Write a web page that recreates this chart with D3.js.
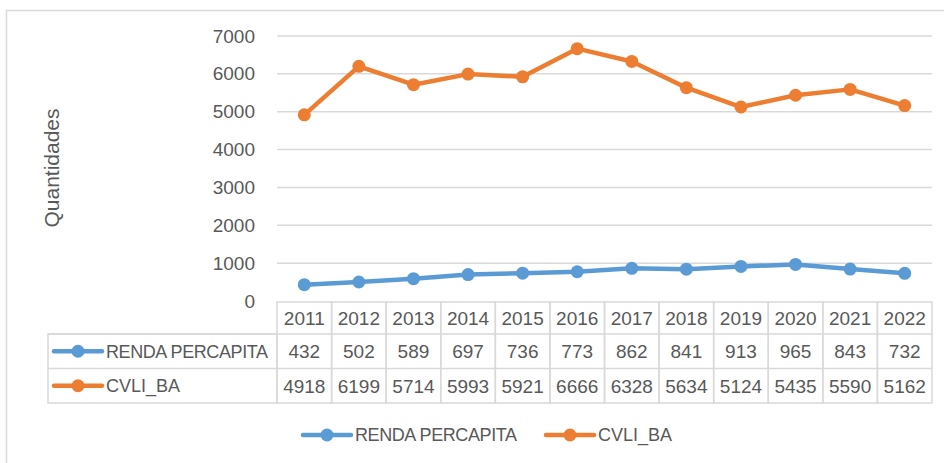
<!DOCTYPE html>
<html>
<head>
<meta charset="utf-8">
<script src="https://cdn.jsdelivr.net/npm/d3@7"></script>
<style>
  body { margin: 0; background: #fff; }
  text { font-family: "Liberation Sans", Arial, sans-serif; fill: #595959; }
</style>
</head>
<body>
<div id="main"></div>
<script>
var years = ["2011", "2012", "2013", "2014", "2015", "2016", "2017", "2018", "2019", "2020", "2021", "2022"];
var renda = [432, 502, 589, 697, 736, 773, 862, 841, 913, 965, 843, 732];
var cvli = [4918, 6199, 5714, 5993, 5921, 6666, 6328, 5634, 5124, 5435, 5590, 5162];
var yTicks = [0, 1000, 2000, 3000, 4000, 5000, 6000, 7000];
var seriesNames = ["RENDA PERCAPITA", "CVLI_BA"];
var seriesColors = ["#5b9bd5", "#ed7d31"];

var W = 944, H = 463;
var grid = "#d9d9d9";

var svg = d3.select("#main")
  .append("svg")
  .attr("width", W)
  .attr("height", H);

svg.append("rect").attr("width", W).attr("height", H).attr("fill", "#fff");

// chart frame (cut at right / bottom like the screenshot)
svg.append("path")
  .attr("d", "M6.5," + H + "V10.5H" + W)
  .attr("fill", "none")
  .attr("stroke", grid)
  .attr("stroke-width", 1.5);

var x = d3.scaleBand()
  .domain(years)
  .range([277, 932]);

var y = d3.scaleLinear()
  .domain([0, 7000])
  .range([301, 36]);

// gridlines
svg.selectAll(".grid")
  .data(yTicks.filter(d => d > 0))
  .enter()
  .append("line")
  .attr("x1", 277).attr("x2", 932)
  .attr("y1", d => y(d)).attr("y2", d => y(d))
  .attr("stroke", grid)
  .attr("stroke-width", 1.5);

// y axis labels
var yAxis = svg.append("g")
  .attr("transform", "translate(263,0)")
  .call(d3.axisLeft(y).tickValues(yTicks).tickFormat(d3.format("d")).tickSize(0).tickPadding(8));
yAxis.select(".domain").remove();
yAxis.selectAll("text")
  .style("font-family", "'Liberation Sans', Arial, sans-serif")
  .style("font-size", "19px")
  .attr("fill", "#595959");

svg.append("text")
  .attr("transform", "translate(59,168) rotate(-90)")
  .attr("text-anchor", "middle")
  .style("font-size", "21px")
  .text("Quantidades");

// lines + markers
var series = [renda, cvli];
var line = d3.line()
  .x((d, i) => x(years[i]) + x.bandwidth() / 2)
  .y(d => y(d));

series.forEach(function(s, k) {
  svg.append("path")
    .attr("d", line(s))
    .attr("fill", "none")
    .attr("stroke", seriesColors[k])
    .attr("stroke-width", 4.5)
    .attr("stroke-linejoin", "round");
  svg.selectAll(".pt" + k)
    .data(s)
    .enter()
    .append("circle")
    .attr("cx", (d, i) => x(years[i]) + x.bandwidth() / 2)
    .attr("cy", d => y(d))
    .attr("r", 6.5)
    .attr("fill", seriesColors[k]);
});

// data table
var rowTop = [302, 334, 368.5];
var rowBot = [334, 368.5, 403];
var tbl = svg.append("g");

tbl.selectAll(".cell")
  .data(years)
  .enter()
  .append("rect")
  .attr("x", d => x(d))
  .attr("y", rowTop[0])
  .attr("width", x.bandwidth())
  .attr("height", rowBot[2] - rowTop[0])
  .attr("fill", "none")
  .attr("stroke", grid)
  .attr("stroke-width", 1.5);

tbl.append("rect")
  .attr("x", 48).attr("y", rowTop[1])
  .attr("width", 277 - 48).attr("height", rowBot[2] - rowTop[1])
  .attr("fill", "none")
  .attr("stroke", grid)
  .attr("stroke-width", 1.5);

[rowTop[1], rowTop[2]].forEach(function(yy) {
  tbl.append("line")
    .attr("x1", 48).attr("x2", 932)
    .attr("y1", yy).attr("y2", yy)
    .attr("stroke", grid)
    .attr("stroke-width", 1.5);
});

var rows = [years, renda, cvli];
rows.forEach(function(r, j) {
  tbl.selectAll(".t" + j)
    .data(r)
    .enter()
    .append("text")
    .attr("x", (d, i) => x(years[i]) + x.bandwidth() / 2)
    .attr("y", (rowTop[j] + rowBot[j]) / 2)
    .attr("dy", "0.36em")
    .attr("text-anchor", "middle")
    .style("font-size", "19px")
    .text(d => d);
});

function legendKey(g, cx, cy, color) {
  g.append("line")
    .attr("x1", cx - 24).attr("x2", cx + 24)
    .attr("y1", cy).attr("y2", cy)
    .attr("stroke", color)
    .attr("stroke-width", 4.5)
    .attr("stroke-linecap", "round");
  g.append("circle")
    .attr("cx", cx).attr("cy", cy).attr("r", 6.5)
    .attr("fill", color);
}

seriesNames.forEach(function(n, k) {
  var cy = (rowTop[k + 1] + rowBot[k + 1]) / 2;
  legendKey(tbl, 78, cy, seriesColors[k]);
  tbl.append("text")
    .attr("x", 106).attr("y", cy).attr("dy", "0.36em")
    .style("font-size", "18px")
    .attr("textLength", k === 0 ? 162 : null)
    .text(n);
});

// bottom legend
var legX = [327, 570];
var leg = svg.append("g");
seriesNames.forEach(function(n, k) {
  legendKey(leg, legX[k], 435, seriesColors[k]);
  leg.append("text")
    .attr("x", legX[k] + 28).attr("y", 435).attr("dy", "0.36em")
    .style("font-size", "18px")
    .attr("textLength", k === 0 ? 162 : null)
    .text(n);
});
</script>
</body>
</html>
